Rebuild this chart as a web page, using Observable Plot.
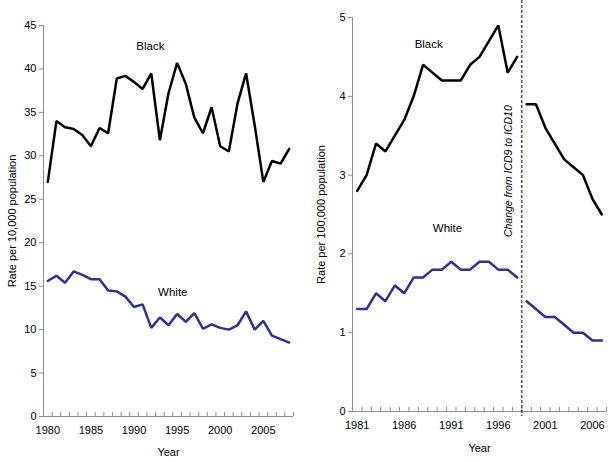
<!DOCTYPE html>
<html><head><meta charset="utf-8">
<script src="https://cdn.jsdelivr.net/npm/d3@7"></script>
<script src="https://cdn.jsdelivr.net/npm/@observablehq/plot@0.6"></script>
<style>
html,body{margin:0;padding:0;background:#fff;}
#chart{display:flex;width:612px;height:462px;overflow:hidden;}
</style></head><body><div id="chart"></div>
<script>
// ---- Left panel data (rate per 10,000) ----
const leftYears = [1980,1981,1982,1983,1984,1985,1986,1987,1988,1989,1990,1991,1992,1993,1994,1995,1996,1997,1998,1999,2000,2001,2002,2003,2004,2005,2006,2007,2008];
const leftBlack = [27.0,34.0,33.3,33.1,32.4,31.1,33.2,32.6,38.9,39.2,38.5,37.7,39.5,31.8,37.2,40.7,38.3,34.4,32.6,35.6,31.1,30.5,36.0,39.5,33.5,27.0,29.4,29.1,30.8];
const leftWhite = [15.6,16.2,15.4,16.7,16.3,15.8,15.8,14.5,14.4,13.8,12.6,12.9,10.2,11.4,10.5,11.8,10.9,11.9,10.1,10.6,10.2,10.0,10.5,12.1,10.0,11.0,9.3,8.9,8.5];
const leftXTickLabels = [1980,1985,1990,1995,2000,2005];
const leftYTicks = [0,5,10,15,20,25,30,35,40,45];
const leftYLabel = "Rate per 10,000 population";

// ---- Right panel data (rate per 100,000) ----
const rightYears = [1981,1982,1983,1984,1985,1986,1987,1988,1989,1990,1991,1992,1993,1994,1995,1996,1997,1998,1999,2000,2001,2002,2003,2004,2005,2006,2007];
const rightBlack = [2.8,3.0,3.4,3.3,3.5,3.7,4.0,4.4,4.3,4.2,4.2,4.2,4.4,4.5,4.7,4.9,4.3,4.5,3.9,3.9,3.6,3.4,3.2,3.1,3.0,2.7,2.5];
const rightWhite = [1.3,1.3,1.5,1.4,1.6,1.5,1.7,1.7,1.8,1.8,1.9,1.8,1.8,1.9,1.9,1.8,1.8,1.7,1.4,1.3,1.2,1.2,1.1,1.0,1.0,0.9,0.9];
const rightXTickLabels = [1981,1986,1991,1996,2001,2006];
const rightYTicks = [0,1,2,3,4,5];
const rightYLabel = "Rate per 100,000 population";
const lastICD9Year = 1998;
const changeNote = "Change from ICD9 to ICD10";

// series labels (year, value) placed in data space
const leftSeriesLabels = [{name:"Black", year:1991.9, value:42.6}, {name:"White", year:1994.5, value:14.3}];
const rightSeriesLabels = [{name:"Black", year:1988.6, value:4.66}, {name:"White", year:1990.6, value:2.32}];

const BLACK = "#000000", BLUE = "#2e3192", AXIS = "#8c8c8c";
const FONT = "'Liberation Sans', Arial, sans-serif";

function rows(years, vals, split) {
  return years.map((y, i) => ({year: y, value: vals[i], period: split && y > lastICD9Year ? "ICD10" : "ICD9"}));
}

function panel({years, black, white, xLabels, yTicks, yMax, yLabel, width, margins, seriesLabels, split, labelOffsetY, labelOffsetX}) {
  const [mt, mr, mb, ml] = margins;
  const height = 462;
  const innerH = height - mt - mb;
  const x0 = years[0] - 0.5, x1 = years[years.length - 1] + 0.5;
  const boundaries = d3.range(x0, x1 + 0.01, 1);
  const marks = [
    Plot.ruleX([x0], {stroke: AXIS}),
    Plot.ruleY([0], {stroke: AXIS}),
    Plot.axisY({ticks: yTicks, tickSize: 4, tickPadding: 3, tickFormat: d => String(d), stroke: AXIS, fill: "#000", label: yLabel, labelAnchor: "center", labelArrow: "none", labelOffset: labelOffsetY, fontSize: 11}),
    Plot.ruleX(boundaries, {x: d => d, insetTop: innerH - 4, stroke: AXIS}),
    Plot.axisX({ticks: xLabels, tickSize: 0, tickPadding: 10, tickFormat: d => String(d), label: "Year", labelAnchor: "center", labelArrow: "none", labelOffset: labelOffsetX, fontSize: 11}),
  ];
  if (split) {
    marks.push(Plot.ruleX([lastICD9Year + 0.5], {stroke: "#000", strokeWidth: 1, strokeDasharray: "3,2", insetTop: -mt, insetBottom: -5}));
    marks.push(Plot.text([changeNote], {x: lastICD9Year + 0.5, y: 3.05, text: d => d, rotate: -90, dx: -13, fontStyle: "italic", fontSize: 10.5, fill: "#000"}));
  }
  marks.push(
    Plot.line(rows(years, black, split), {x: "year", y: "value", z: "period", stroke: BLACK, strokeWidth: 2.5, strokeLinejoin: "miter"}),
    Plot.line(rows(years, white, split), {x: "year", y: "value", z: "period", stroke: BLUE, strokeWidth: 2.5, strokeLinejoin: "miter"}),
    Plot.text(seriesLabels, {x: "year", y: "value", text: "name", fontSize: 11.5, fill: "#000"})
  );
  return Plot.plot({
    width, height,
    marginTop: mt, marginRight: mr, marginBottom: mb, marginLeft: ml,
    style: {fontFamily: FONT, fontSize: "11px", background: "white", color: "#000"},
    x: {domain: [x0, x1]},
    y: {domain: [0, yMax]},
    marks
  });
}

const chart = document.getElementById("chart");
chart.appendChild(panel({years: leftYears, black: leftBlack, white: leftWhite, xLabels: leftXTickLabels, yTicks: leftYTicks, yMax: 45, yLabel: leftYLabel, width: 306, margins: [25, 13, 46, 43], seriesLabels: leftSeriesLabels, split: false, labelOffsetY: 35, labelOffsetX: 39}));
chart.appendChild(panel({years: rightYears, black: rightBlack, white: rightWhite, xLabels: rightXTickLabels, yTicks: rightYTicks, yMax: 5, yLabel: rightYLabel, width: 306, margins: [17, 6, 51, 46], seriesLabels: rightSeriesLabels, split: true, labelOffsetY: 35, labelOffsetX: 40}));
</script></body></html>
